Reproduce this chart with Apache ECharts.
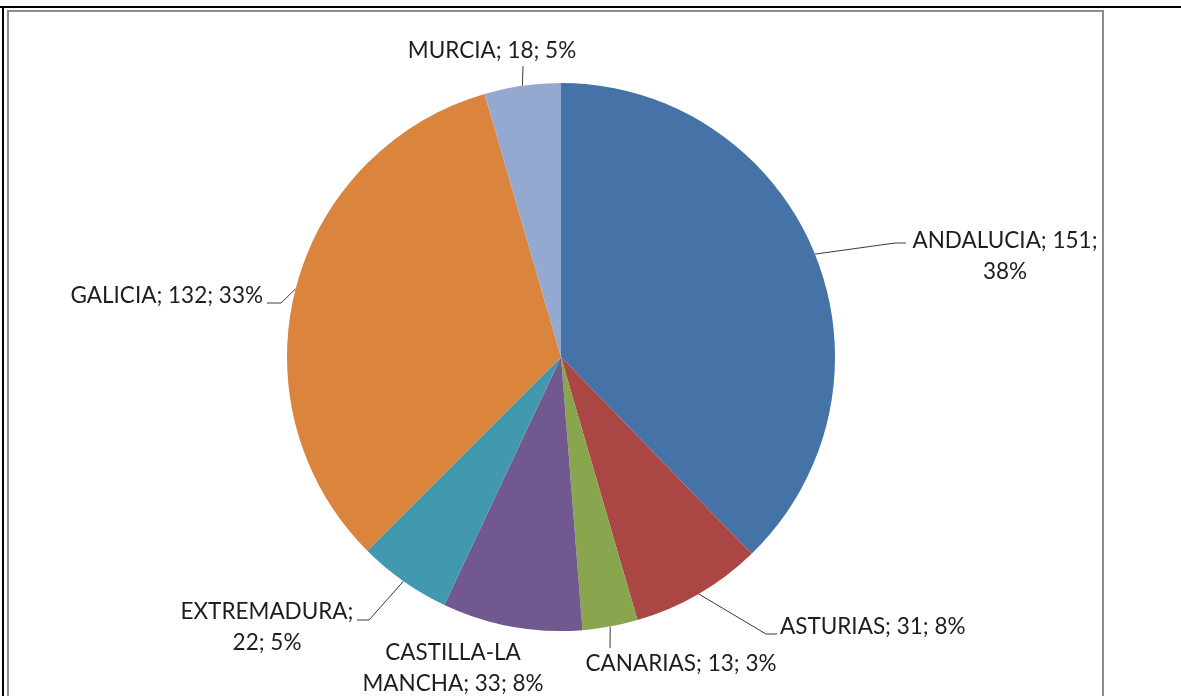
<!DOCTYPE html>
<html>
<head>
<meta charset="utf-8">
<script src="https://cdn.jsdelivr.net/npm/echarts@6/dist/echarts.min.js"></script>
<style>
  html, body { margin: 0; padding: 0; background: #fff; overflow: hidden; }
  #wrap { position: relative; width: 1181px; height: 696px; }
  #topline { position: absolute; left: 0; top: 6px; width: 1181px; height: 2px; background: #000; }
  #leftline { position: absolute; left: 2px; top: 6px; width: 2px; height: 690px; background: #000; }
  #box { position: absolute; left: 7px; top: 10px; width: 1097px; height: 700px; border: 2px solid #8c8c8c; border-bottom: none; box-sizing: border-box; }
  #chart { position: absolute; left: 0; top: 0; width: 1181px; height: 696px; }
</style>
</head>
<body>
<div id="wrap">
  <div id="topline"></div>
  <div id="leftline"></div>
  <div id="box"></div>
  <div id="chart"></div>
</div>
<script>
// ---- data ----
const categories = ['ANDALUCIA', 'ASTURIAS', 'CANARIAS', 'CASTILLA-LA MANCHA', 'EXTREMADURA', 'GALICIA', 'MURCIA'];
const values = [151, 31, 13, 33, 22, 132, 18];
const percentLabels = [38, 8, 3, 8, 5, 33, 5];
const colors = ['#4572A7', '#AA4643', '#89A54E', '#71588F', '#4198AF', '#DB843D', '#93A9CF'];

// ---- layout (label placement, leader elbows) ----
const labelPos = {
  'ANDALUCIA':          { x: 1005, y: 256, align: 'center', elbow: [895, 243], end: [906, 243] },
  'ASTURIAS':           { x: 780,  y: 627, align: 'left',   elbow: [766, 634], end: [777, 634] },
  'CANARIAS':           { x: 681,  y: 664, align: 'center', elbow: null,       end: [610, 648] },
  'CASTILLA-LA MANCHA': { x: 453,  y: 668, align: 'center', noLine: true },
  'EXTREMADURA':        { x: 267,  y: 627, align: 'center', elbow: [369, 620], end: [357, 620] },
  'GALICIA':            { x: 263,  y: 296, align: 'right',  elbow: [281, 303], end: [267, 303] },
  'MURCIA':             { x: 492,  y: 51,  align: 'center', elbow: null,       end: [523, 66] }
};

function labelText(i) {
  const n = categories[i], v = values[i], p = percentLabels[i] + '%';
  if (n === 'ANDALUCIA') return n + '; ' + v + ';\n' + p;
  if (n === 'EXTREMADURA') return n + ';\n' + v + '; ' + p;
  if (n === 'CASTILLA-LA MANCHA') return 'CASTILLA-LA\nMANCHA; ' + v + '; ' + p;
  return n + '; ' + v + '; ' + p;
}

const data = categories.map((c, i) => ({
  name: c,
  value: values[i],
  itemStyle: { color: colors[i] },
  labelLine: { show: !labelPos[c].noLine }
}));

const chart = echarts.init(document.getElementById('chart'), null, { renderer: 'canvas' });
chart.setOption({
  animation: false,
  backgroundColor: 'transparent',
  series: [{
    type: 'pie',
    center: [561, 357],
    radius: 274,
    startAngle: 90,
    clockwise: true,
    avoidLabelOverlap: false,
    itemStyle: { borderWidth: 0 },
    label: {
      show: true,
      position: 'outside',
      formatter: p => labelText(p.dataIndex),
      fontFamily: 'Lato',
      fontSize: 22.5,
      lineHeight: 31,
      color: '#1e1e1e'
    },
    labelLine: {
      show: true,
      length: 20,
      length2: 10,
      lineStyle: { color: '#3a3a3a', width: 1 }
    },
    emphasis: { disabled: true },
    labelLayout: function (params) {
      const lp = labelPos[categories[params.dataIndex]];
      const out = { x: lp.x, y: lp.y, align: lp.align, verticalAlign: 'middle' };
      if (!lp.noLine && params.labelLinePoints) {
        const start = params.labelLinePoints[0];
        const pts = [start];
        pts.push(lp.elbow ? lp.elbow : lp.end);
        pts.push(lp.end);
        out.labelLinePoints = pts;
      }
      return out;
    },
    data: data
  }]
});
</script>
</body>
</html>
